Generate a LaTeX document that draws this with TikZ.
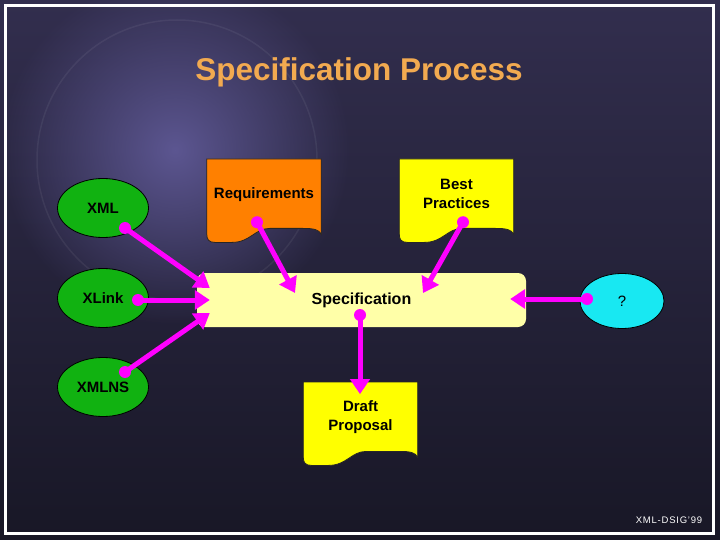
\documentclass[tikz,border=0pt]{standalone}
\usepackage{fontspec}
\setmainfont{Liberation Sans}
\usetikzlibrary{arrows.meta,calc,shapes.geometric,fadings}
\definecolor{bgtop}{RGB}{50,46,78}
\definecolor{bgdark}{RGB}{24,23,38}
\definecolor{globecol}{RGB}{92,86,145}
\definecolor{titleorange}{RGB}{242,170,80}
\definecolor{xmlgreen}{RGB}{17,178,17}
\definecolor{reqorange}{RGB}{255,128,0}
\definecolor{docyellow}{RGB}{255,255,0}
\definecolor{specyellow}{RGB}{255,255,168}
\definecolor{qcyan}{RGB}{24,232,242}
\definecolor{linkpink}{RGB}{255,0,255}
\tikzfading[name=globeglow, inner color=transparent!0, outer color=transparent!100]
\pgfdeclarelayer{backdrop}
\pgfdeclarelayer{paper}
\pgfsetlayers{backdrop,paper,main}
\tikzset{
  blob/.style={ellipse, draw=black, line width=0.8, minimum width=91, minimum height=59, inner sep=0pt, font=\fontsize{15}{17}\selectfont\bfseries},
  docbox/.style={rectangle, anchor=north, minimum width=114, minimum height=70, inner sep=0pt, align=center, font=\fontsize{15}{19}\selectfont\bfseries},
  link/.style={line width=5, draw=linkpink, -{Triangle[length=15,width=19]}}
}
% page with a wavy foot, drawn round a docbox node
\newcommand\docpage[2]{%
  \begin{pgfonlayer}{paper}
  \filldraw[draw=black!85, line width=0.8, fill=#2] (#1.north west) -- (#1.north east)
    -- ($(#1.south east)+(0,5)$)
    .. controls ($(#1.south east)+(-2,0)$) and ($(#1.south east)+(-8,-1)$) .. ($(#1.south east)+(-18,-1)$)
    -- ($(#1.south west)!0.55!(#1.south east)+(0,-1)$)
    .. controls ($(#1.south west)!0.42!(#1.south east)+(0,-1)$) and ($(#1.south west)!0.38!(#1.south east)+(0,13)$) .. ($(#1.south west)!0.22!(#1.south east)+(0,13)$)
    -- ($(#1.south west)+(8,13)$)
    .. controls ($(#1.south west)+(2,13)$) and ($(#1.south west)+(0,10)$) .. ($(#1.south west)+(0,5)$)
    -- cycle;
  \end{pgfonlayer}}
\newcommand\link[2]{%
  \draw[link] (#1) -- (#2);
  \fill[linkpink] (#1) circle[radius=6];}
\begin{document}
\begin{tikzpicture}[x=1pt,y=-1pt]
  \useasboundingbox (0,0) rectangle (720,540);
  \begin{pgfonlayer}{backdrop}
    \shade[top color=bgtop, bottom color=bgdark] (0,0) rectangle (720,540);
    \fill[globecol, path fading=globeglow] (175,150) circle[radius=175];
    \draw[white, opacity=0.06, line width=1.5] (177,160) circle[radius=140];
    \draw[white, line width=3] (5.5,5.5) rectangle (713.5,533.5);
  \end{pgfonlayer}

  \node[text=titleorange, font=\fontsize{31.5}{34}\selectfont\bfseries] (title) at (359,72) {Specification Process};

  \node[blob, fill=xmlgreen] (xml) at (103,208) {XML};
  \node[blob, fill=xmlgreen] (xlink) at (103,298) {XLink};
  \node[blob, fill=xmlgreen] (xmlns) at (103,387) {XMLNS};
  \node[blob, fill=qcyan, minimum width=84, minimum height=55, font=\fontsize{15}{17}\selectfont] (what) at (622,301) {?};

  \node[rectangle, rounded corners=8, fill=specyellow, minimum width=329, minimum height=54,
        font=\fontsize{16}{18}\selectfont\bfseries] (spec) at (361.5,300) {Specification};

  \node[docbox] (req) at (264,159) {Requirements};
  \node[docbox] (best) at (456.5,159) {Best\\Practices};
  \node[docbox] (draft) at (360.5,382) {Draft\\Proposal};
  \docpage{req}{reqorange}
  \docpage{best}{docyellow}
  \docpage{draft}{docyellow}

  \link{$(xml)+(22,20)$}{$(spec.west)+(13,-12)$}
  \link{$(xlink)+(35,2)$}{$(spec.west)+(13,0)$}
  \link{$(xmlns)+(22,-15)$}{$(spec.west)+(13,13)$}
  \link{$(req)+(-7,28)$}{$(spec)+(-66.5,-7)$}
  \link{$(best)+(6.5,28)$}{$(spec)+(61.5,-7)$}
  \link{$(what)+(-35,-2)$}{$(spec.east)+(-16,-1)$}
  \link{$(spec)+(-1.5,15)$}{$(draft)+(-0.5,-23)$}

  \node[text=white, font=\fontsize{9.5}{11}\selectfont\addfontfeature{LetterSpace=8}] (foot) at (669,520) {XML-DSIG'99};
\end{tikzpicture}
\end{document}
